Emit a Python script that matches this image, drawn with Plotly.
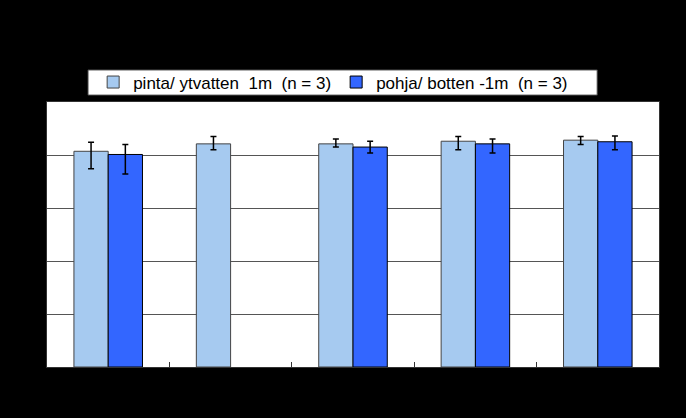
import plotly.graph_objects as go

# Näytepaikat (tekstit ovat mustia mustalla pohjalla, eivät näy kuvassa)
paikat = ["Paikka 1", "Paikka 2", "Paikka 3", "Paikka 4", "Paikka 5"]

# Pintavesi 1 m
pinta = [8.14, 8.42, 8.42, 8.52, 8.56]
pinta_plus = [0.34, 0.28, 0.18, 0.18, 0.14]
pinta_miinus = [0.66, 0.22, 0.12, 0.32, 0.16]

# Pohjavesi -1 m (paikalta 2 ei näytettä)
pohja = [8.02, None, 8.30, 8.42, 8.50]
pohja_plus = [0.38, 0, 0.22, 0.18, 0.22]
pohja_miinus = [0.74, 0, 0.22, 0.34, 0.30]

fig = go.Figure()

# Pintaveden pylväät
fig.add_trace(go.Bar(
    x=paikat, y=pinta, name="pinta/ ytvatten  1m  (n = 3)",
    marker=dict(color="#A6CAF0", line=dict(color="#444444", width=1)),
    error_y=dict(type="data", symmetric=False, array=pinta_plus, arrayminus=pinta_miinus,
                 color="black", thickness=1.5, width=3),
))

# Pohjaveden pylväät
fig.add_trace(go.Bar(
    x=paikat, y=pohja, name="pohja/ botten -1m  (n = 3)",
    marker=dict(color="#3366FF", line=dict(color="black", width=1)),
    error_y=dict(type="data", symmetric=False, array=pohja_plus, arrayminus=pohja_miinus,
                 color="black", thickness=1.5, width=3),
))

# Selitteen valkoinen laatikko
fig.add_shape(type="rect", xref="paper", yref="paper",
              x0=0.067, x1=0.899, y0=1.026, y1=1.121,
              fillcolor="white", line=dict(color="#444444", width=1), layer="below")

fig.update_layout(
    width=686, height=418,
    paper_bgcolor="black", plot_bgcolor="white",
    margin=dict(l=47, r=27, t=102, b=51),
    barmode="group", bargap=0.44, bargroupgap=0,
    font=dict(family="Liberation Sans, Arial", size=13, color="black"),
    legend=dict(
        orientation="h", x=0.0754, y=1.0736, xanchor="left", yanchor="middle",
        bgcolor="rgba(0,0,0,0)", borderwidth=0,
        font=dict(size=17, color="black"), entrywidth=198,
        traceorder="normal",
    ),
)

fig.update_xaxes(
    showline=True, linecolor="#333333", linewidth=1, mirror=True,
    ticks="inside", tickson="boundaries", ticklen=5, tickcolor="#333333",
    showgrid=False,
)
fig.update_yaxes(
    range=[0, 10], dtick=2, showline=True, linecolor="#333333", linewidth=1, mirror=True,
    showgrid=True, gridcolor="#555555", gridwidth=1, zeroline=False,
    ticks="outside", tickcolor="black",
)

fig.write_html("out.html", config={"displayModeBar": False},
               post_script="document.body.style.margin='0';")
